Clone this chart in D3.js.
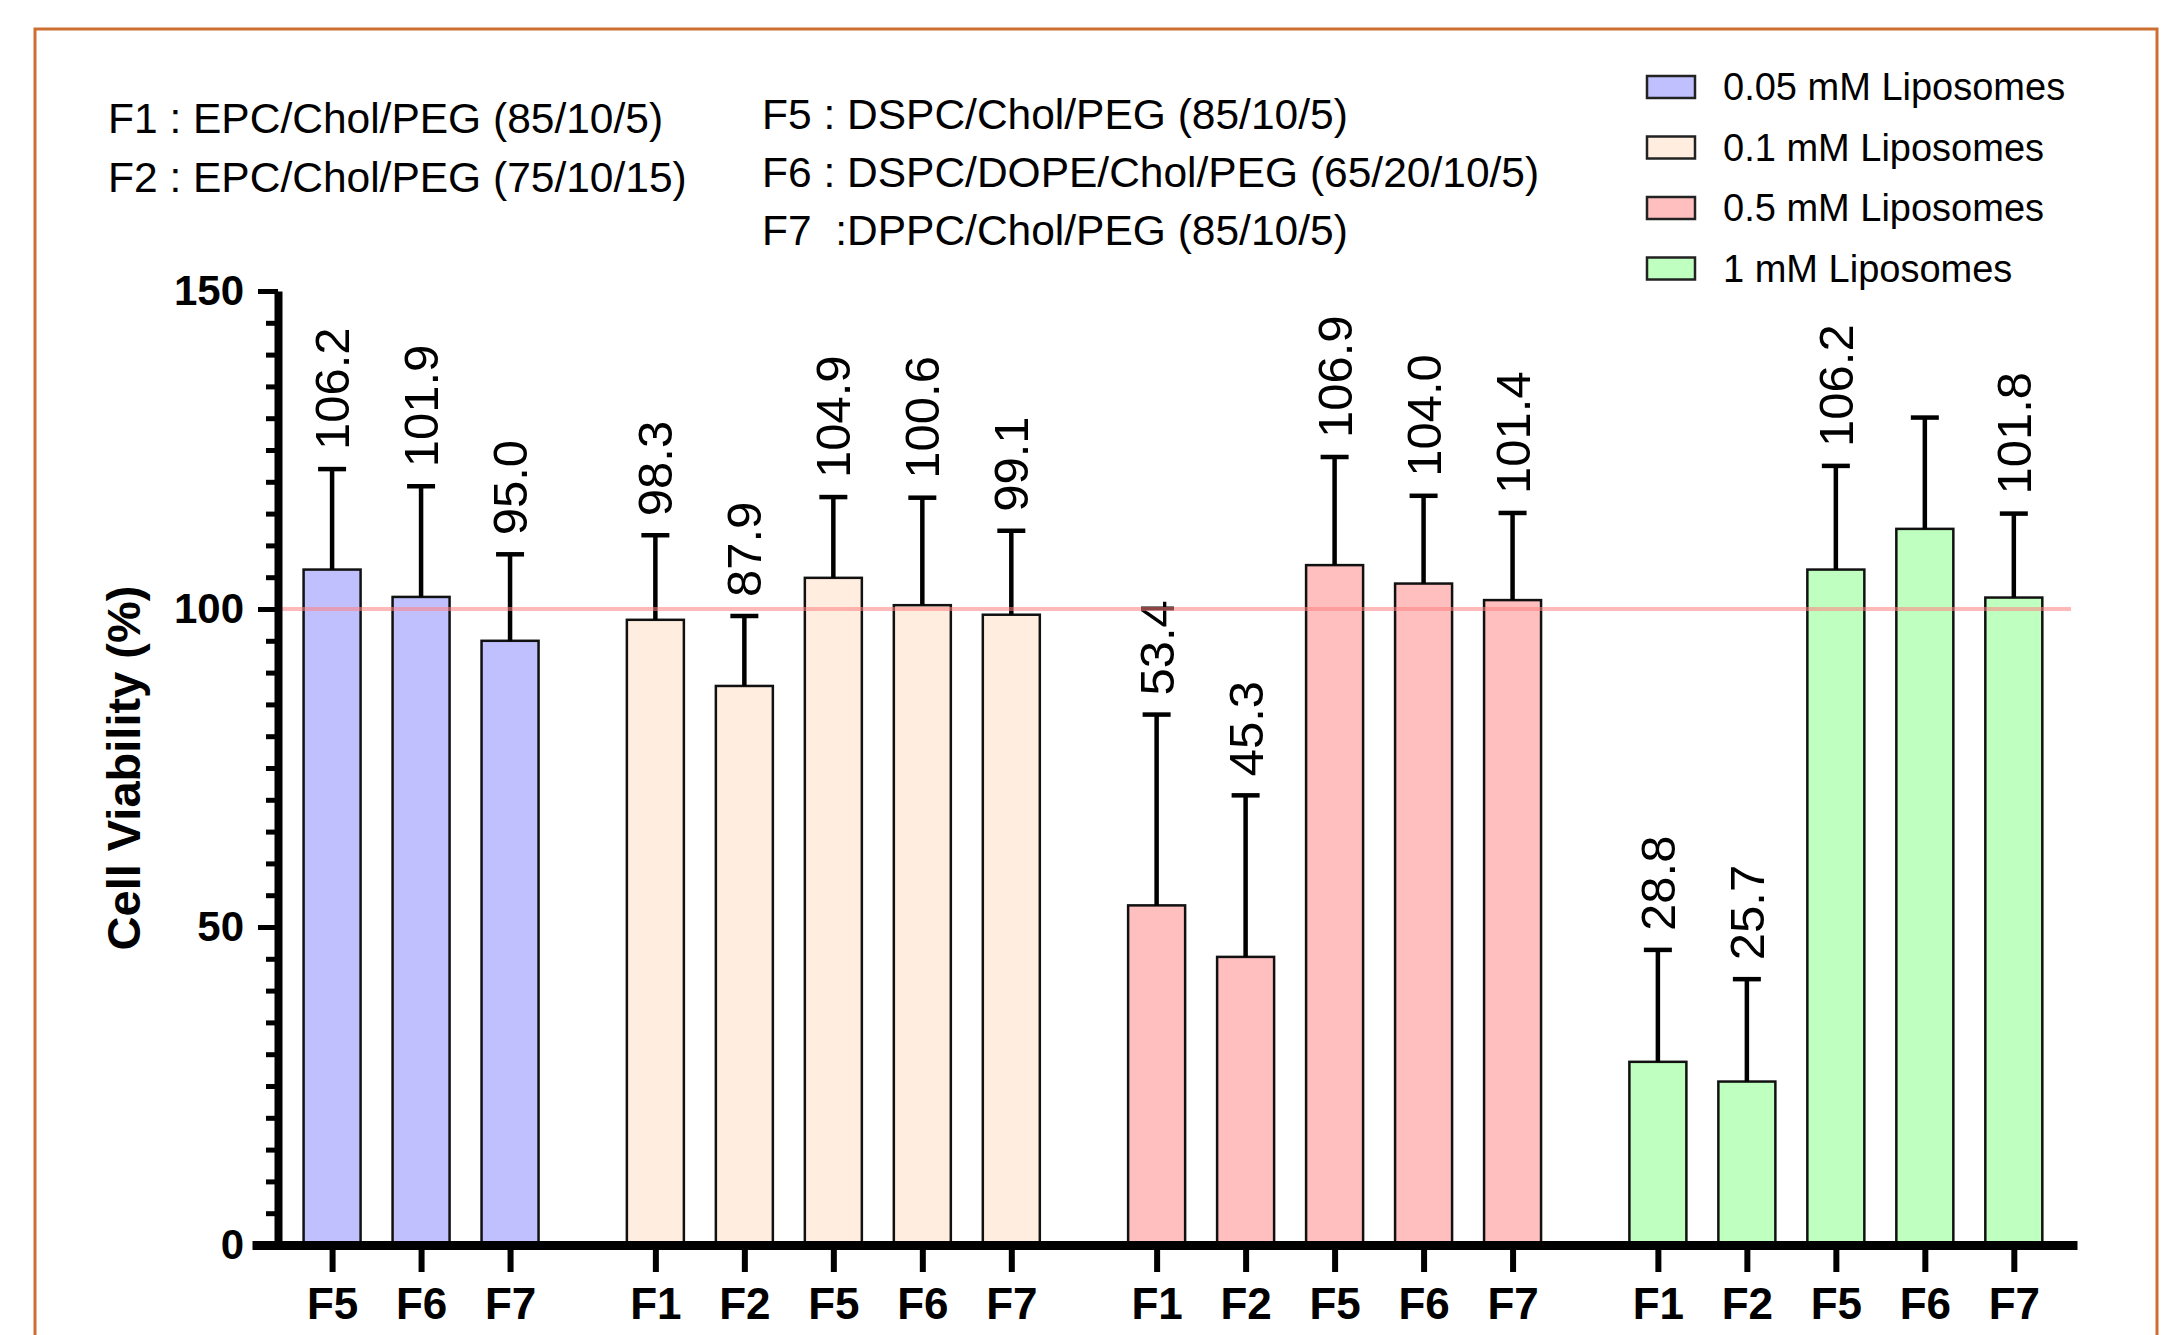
<!DOCTYPE html>
<html>
<head>
<meta charset="utf-8">
<script src="https://cdn.jsdelivr.net/npm/d3@7"></script>
<style>
	body { margin: 0; background: #fff; }
	text { font-family: "Liberation Sans", Arial, sans-serif; }
</style>
</head>
<body>
<svg id="chart" width="2179" height="1335"></svg>
<script>
// concentrations (groups) and formulations tested in each one
var groups = ["0.05 mM Liposomes", "0.1 mM Liposomes", "0.5 mM Liposomes", "1 mM Liposomes"];
var formulations = [
	["F5", "F6", "F7"],
	["F1", "F2", "F5", "F6", "F7"],
	["F1", "F2", "F5", "F6", "F7"],
	["F1", "F2", "F5", "F6", "F7"]
];
// mean cell viability (%)
var means = [
	[106.2, 101.9, 95.0],
	[98.3, 87.9, 104.9, 100.6, 99.1],
	[53.4, 45.3, 106.9, 104.0, 101.4],
	[28.8, 25.7, 106.2, 112.6, 101.8]
];
// upper error bar (SD)
var sds = [
	[15.8, 17.4, 13.6],
	[13.3, 11.0, 12.7, 16.9, 13.2],
	[30.0, 25.4, 17.0, 13.8, 13.7],
	[17.6, 16.1, 16.3, 17.5, 13.2]
];
// value written above the bar or not
var showLabel = [
	[1, 1, 1],
	[1, 1, 1, 1, 1],
	[1, 1, 1, 1, 1],
	[1, 1, 1, 0, 1]
];
var colors = ["#c0c0ff", "#ffeddf", "#ffbfbf", "#bfffbf"];
var yTicks = [0, 50, 100, 150];
var refValue = 100;
var notesLeft = ["F1 : EPC/Chol/PEG (85/10/5)", "F2 : EPC/Chol/PEG (75/10/15)"];
var notesRight = ["F5 : DSPC/Chol/PEG (85/10/5)", "F6 : DSPC/DOPE/Chol/PEG (65/20/10/5)", "F7  :DPPC/Chol/PEG (85/10/5)"];

var groupGap = 0.633; // extra space between groups, in bar slots

// flatten to one row per bar
var rows = [];
var slot = 0;
groups.forEach(function(g, gi) {
	formulations[gi].forEach(function(f, fi) {
		rows.push({
			group: gi,
			name: f,
			pos: slot + gi * groupGap,
			mean: means[gi][fi],
			sd: sds[gi][fi],
			label: showLabel[gi][fi]
		});
		slot++;
	});
});
var lastPos = rows[rows.length - 1].pos;

var svg = d3.select('#chart');

// orange frame
svg.append('rect')
	.attr('x', 35).attr('y', 29)
	.attr('width', 2122).attr('height', 1340)
	.style('fill', 'none')
	.style('stroke', '#cd6f33')
	.style('stroke-width', 3);

var x = d3.scaleLinear().domain([-0.9, lastPos + 0.71]).range([252, 2077]);
var y = d3.scaleLinear().domain([0, 150]).range([1245, 291]);
var yAxisX = 278;
var barW = 57;

// bars
svg.append('g').selectAll('rect')
	.data(rows)
	.enter().append('rect')
	.attr('x', function(d) { return x(d.pos) - barW / 2; })
	.attr('y', function(d) { return y(d.mean); })
	.attr('width', barW)
	.attr('height', function(d) { return y(0) - y(d.mean); })
	.style('fill', function(d) { return colors[d.group]; })
	.style('stroke', '#111')
	.style('stroke-width', 2.5);

// error bars (upper only)
var err = svg.append('g')
	.style('stroke', '#000')
	.style('stroke-width', 4.5);
err.selectAll('line.v')
	.data(rows)
	.enter().append('line')
	.attr('class', 'v')
	.attr('x1', function(d) { return x(d.pos); })
	.attr('x2', function(d) { return x(d.pos); })
	.attr('y1', function(d) { return y(d.mean); })
	.attr('y2', function(d) { return y(d.mean + d.sd); });
err.selectAll('line.cap')
	.data(rows)
	.enter().append('line')
	.attr('class', 'cap')
	.attr('x1', function(d) { return x(d.pos) - 14; })
	.attr('x2', function(d) { return x(d.pos) + 14; })
	.attr('y1', function(d) { return y(d.mean + d.sd); })
	.attr('y2', function(d) { return y(d.mean + d.sd); });

// value labels, rotated
svg.append('g').selectAll('text')
	.data(rows.filter(function(d) { return d.label; }))
	.enter().append('text')
	.attr('transform', function(d) {
		return 'translate(' + (x(d.pos) + 17) + ',' + (y(d.mean + d.sd) - 19) + ') rotate(-90)';
	})
	.style('font-size', '49px')
	.style('fill', '#000')
	.text(function(d) { return d.mean.toFixed(1); });

// 100 % reference line
svg.append('line')
	.attr('x1', yAxisX).attr('x2', x(lastPos + 0.71) - 6)
	.attr('y1', y(refValue)).attr('y2', y(refValue))
	.style('stroke', '#ff8080')
	.style('stroke-opacity', 0.55)
	.style('stroke-width', 4);

// y axis: minor ticks every 5, major every 50
var yMinor = svg.append('g')
	.attr('transform', 'translate(' + yAxisX + ',0)')
	.call(d3.axisLeft(y)
		.tickValues(d3.range(0, 151, 5).filter(function(v) { return v % 50; }))
		.tickSize(12)
		.tickFormat(''));
yMinor.select('.domain').remove();
yMinor.selectAll('.tick line').style('stroke', '#000').style('stroke-width', 5);

var yAxis = svg.append('g')
	.attr('transform', 'translate(' + yAxisX + ',0)')
	.call(d3.axisLeft(y)
		.tickValues(yTicks)
		.tickSize(20)
		.tickSizeOuter(0)
		.tickPadding(14));
yAxis.select('.domain').style('stroke', '#000').style('stroke-width', 8);
yAxis.selectAll('.tick line').style('stroke', '#000').style('stroke-width', 5);
yAxis.selectAll('.tick text')
	.style('font-size', '42px')
	.style('font-weight', 'bold')
	.style('font-family', '"Liberation Sans", Arial, sans-serif')
	.style('fill', '#000');

// x axis
var xAxis = svg.append('g')
	.attr('transform', 'translate(0,' + y(0) + ')')
	.call(d3.axisBottom(x)
		.tickValues(rows.map(function(d) { return d.pos; }))
		.tickFormat(function(d, i) { return rows[i].name; })
		.tickSize(27)
		.tickSizeOuter(0)
		.tickPadding(16));
xAxis.select('.domain').style('stroke', '#000').style('stroke-width', 9);
xAxis.selectAll('.tick line').style('stroke', '#000').style('stroke-width', 6);
xAxis.selectAll('.tick text')
	.style('font-size', '44px')
	.style('font-weight', 'bold')
	.style('font-family', '"Liberation Sans", Arial, sans-serif')
	.style('fill', '#000');

// y title
svg.append('text')
	.attr('transform', 'translate(140,' + ((y(0) + y(150)) / 2) + ') rotate(-90)')
	.attr('text-anchor', 'middle')
	.style('font-size', '47px')
	.style('font-weight', 'bold')
	.text('Cell Viability (%)');

// formulation notes
svg.append('g').selectAll('text')
	.data(notesLeft)
	.enter().append('text')
	.attr('x', 108)
	.attr('y', function(d, i) { return 133 + i * 59; })
	.style('font-size', '42.5px')
	.style('white-space', 'pre')
	.text(function(d) { return d; });
svg.append('g').selectAll('text')
	.data(notesRight)
	.enter().append('text')
	.attr('x', 762)
	.attr('y', function(d, i) { return 129 + i * 58; })
	.style('font-size', '42.5px')
	.style('white-space', 'pre')
	.text(function(d) { return d; });

// legend
var legend = svg.append('g').selectAll('g')
	.data(groups)
	.enter().append('g')
	.attr('transform', function(d, i) { return 'translate(1647,' + (87 + i * 60.5) + ')'; });
legend.append('rect')
	.attr('x', 0).attr('y', -11)
	.attr('width', 48).attr('height', 22)
	.style('fill', function(d, i) { return colors[i]; })
	.style('stroke', '#222')
	.style('stroke-width', 2.5);
legend.append('text')
	.attr('x', 76).attr('y', 13)
	.style('font-size', '38px')
	.text(function(d) { return d; });
</script>
</body>
</html>
